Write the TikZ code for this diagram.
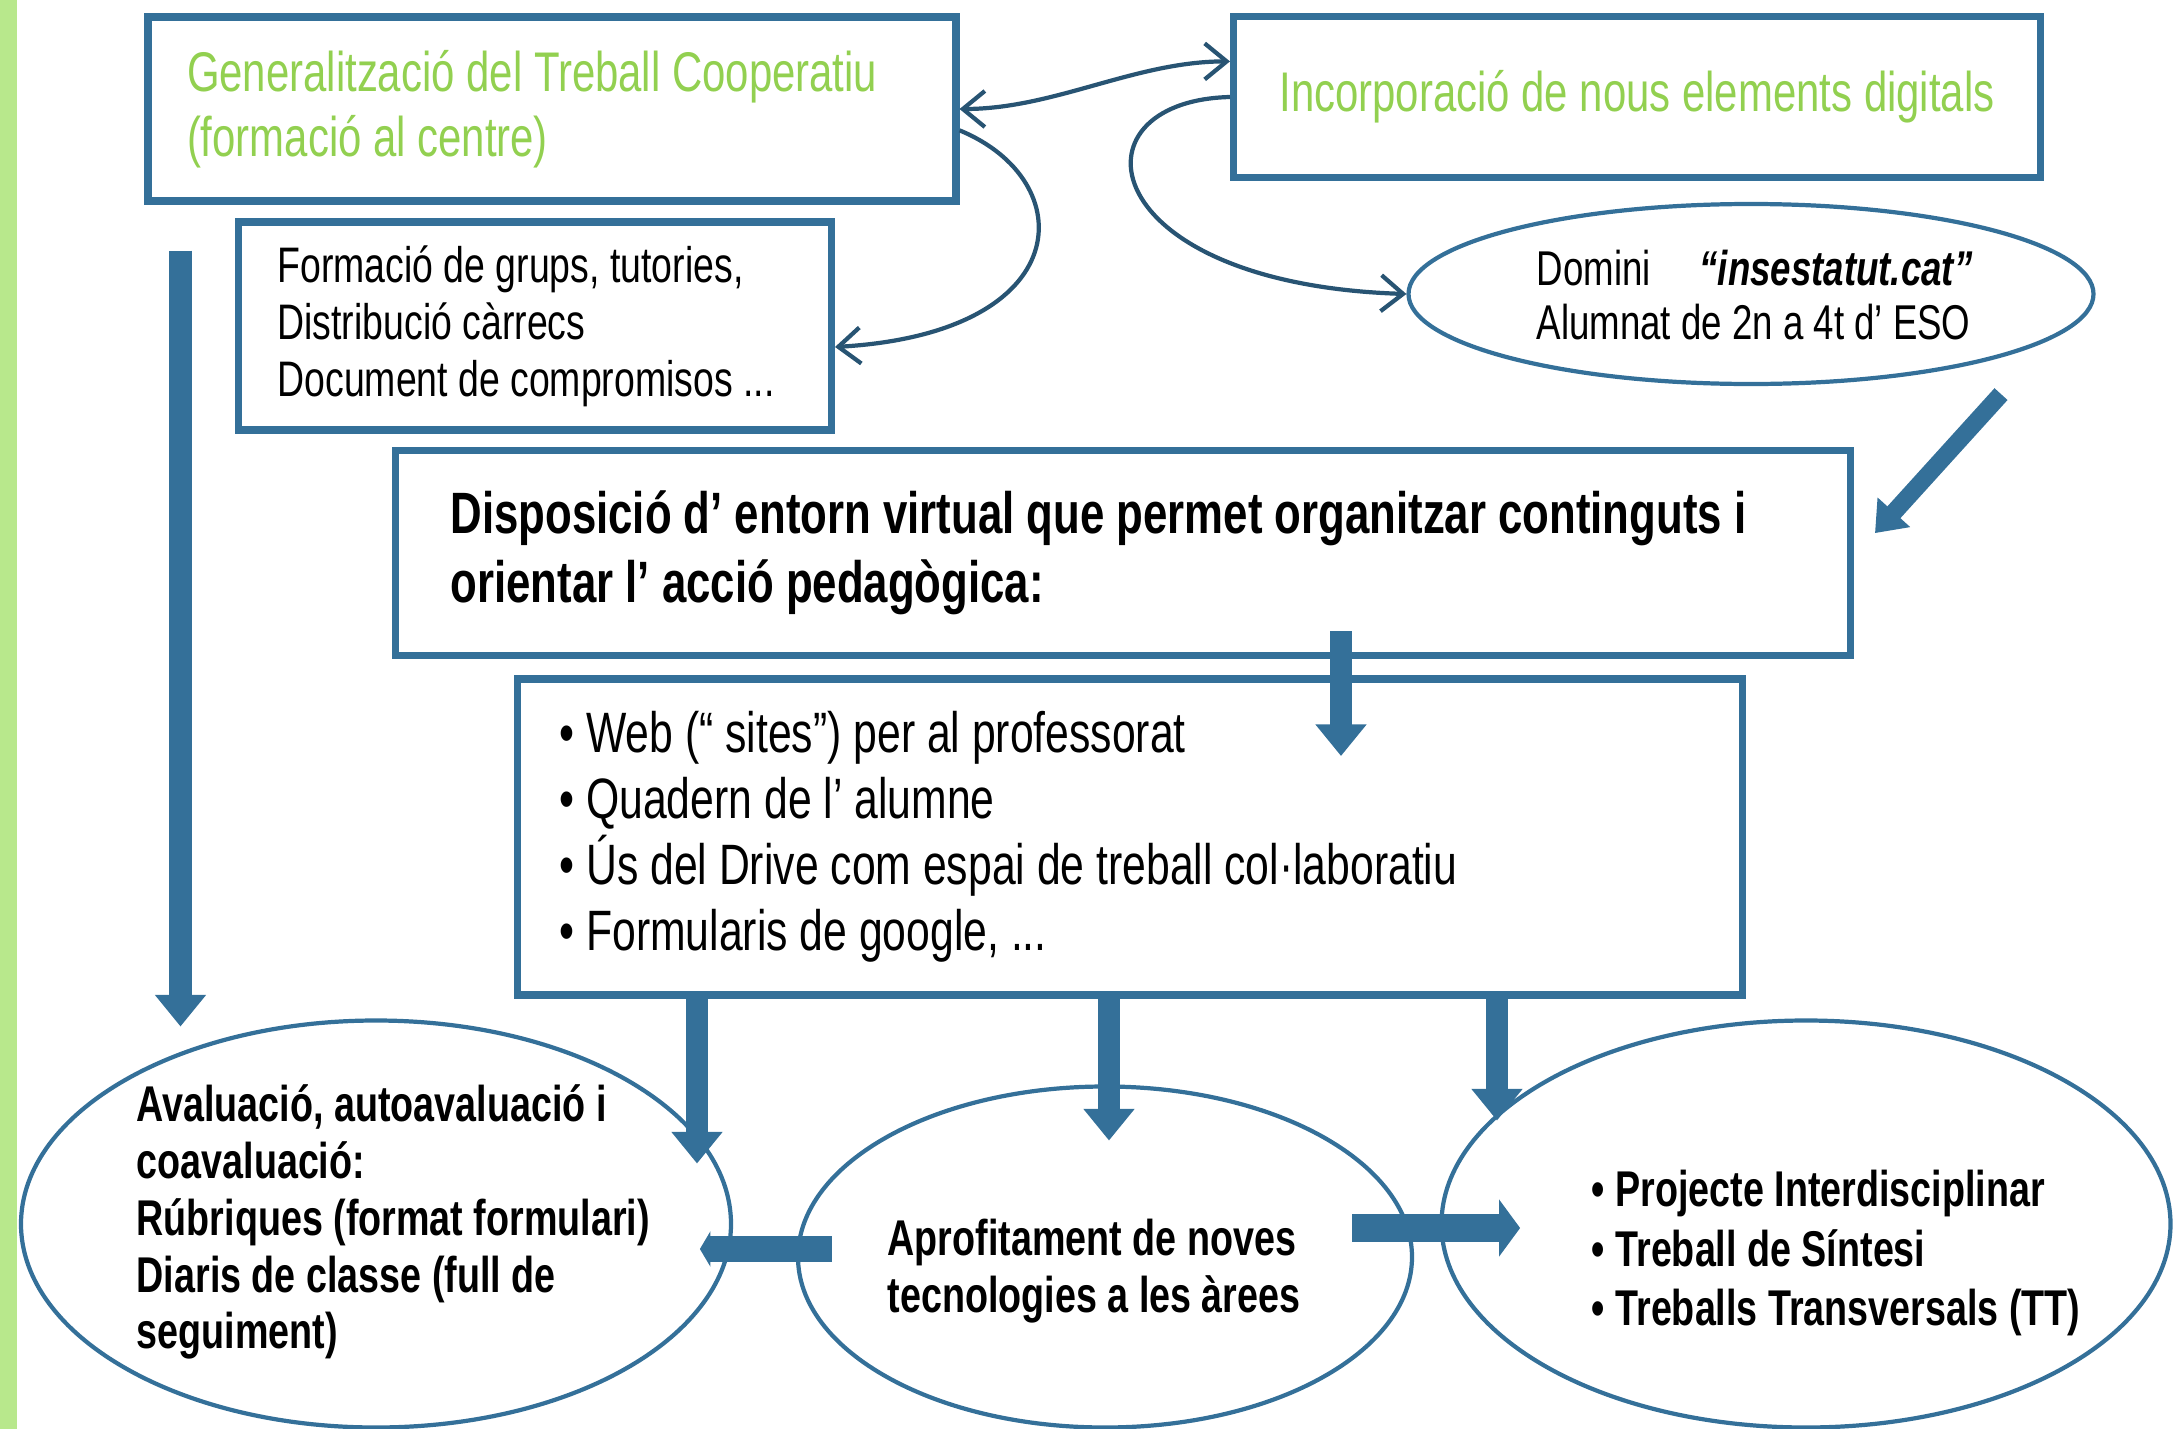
\documentclass[tikz,border=0pt]{standalone}
\usepackage{fontspec}
\setmainfont{Liberation Sans}[FakeStretch=0.75]
\usepackage{tikz}
\usetikzlibrary{shapes.geometric,arrows.meta,calc}

\definecolor{boxblue}{RGB}{52,112,153}
\definecolor{curveblue}{RGB}{40,84,115}
\definecolor{titlegreen}{RGB}{146,208,80}
\definecolor{stripgreen}{RGB}{184,232,140}

\begin{document}
\begin{tikzpicture}[y=-1cm,>={Straight Barb[length=2.2mm,width=3.6mm]},
    mybox/.style={draw=boxblue,line width=2pt,rectangle,align=flush left},
    myell/.style={draw=boxblue,line width=1.2pt,ellipse,inner sep=0pt},
    mytext/.style={inner sep=0pt,align=flush left,anchor=west},
    myarrow/.style={boxblue,line width=6.5pt,-{Triangle[width=14pt,length=9pt]}},
    mycurve/.style={curveblue,line width=1.2pt}]

    \useasboundingbox (0,0) rectangle (21.73,14.29);

    %green strip
    \fill[stripgreen] (0,0) rectangle (0.17,14.29);

    %top boxes
    \node[mybox,minimum width=8.08cm,minimum height=1.84cm,inner xsep=0.39cm,text width=7.30cm,
          text=titlegreen,font=\fontsize{15.9}{18.5}\selectfont] (gen) at (5.52,1.09)
          {Generalització del Treball Cooperatiu\\(formació al centre)};
    \node[mybox,minimum width=8.07cm,minimum height=1.61cm,inner xsep=0.2cm,text width=7.67cm,align=flush center,
          text=titlegreen,font=\fontsize{15.9}{18.5}\selectfont] (inc) at (16.37,0.97)
          {Incorporació de nous elements digitals};
    \node[mybox,minimum width=5.93cm,minimum height=2.08cm,inner xsep=0.39cm,text width=5.15cm,
          font=\fontsize{14.2}{16.2}\selectfont] (grp) at (5.35,3.26)
          {Formació de grups, tutories,\\Distribució càrrecs\\Document de compromisos ...};

    %domain ellipse
    \node[myell,minimum width=6.85cm,minimum height=1.80cm] (dom) at (17.51,2.94) {};
    \node[mytext,font=\fontsize{13.9}{15.6}\selectfont] (domtxt) at (15.36,2.95)
          {Domini\quad\textbf{\textit{“insestatut.cat”}}\\Alumnat de 2n a 4t d’ ESO};

    %middle boxes
    \node[mybox,minimum width=14.55cm,minimum height=2.05cm,inner xsep=0.55cm,text width=13.45cm,
          font=\bfseries\fontsize{16.6}{19.6}\selectfont] (dis) at (11.23,5.53)
          {Disposició d’ entorn virtual que permet organitzar continguts i\\orientar l’ acció pedagògica:};
    \node[mybox,minimum width=12.25cm,minimum height=3.16cm,inner xsep=0.42cm,text width=11.41cm,
          font=\fontsize{16.2}{18.8}\selectfont] (web) at (11.30,8.37)
          {• Web (“ sites”) per al professorat\\• Quadern de l’ alumne\\• Ús del Drive com espai de treball col·laboratiu\\• Formularis de google, ...};

    %bottom ellipses
    \node[myell,minimum width=7.10cm,minimum height=4.07cm] (eva) at (3.76,12.24) {};
    \node[myell,minimum width=6.14cm,minimum height=3.41cm] (apr) at (11.05,12.57) {};
    \node[myell,minimum width=7.29cm,minimum height=4.07cm] (proj) at (18.06,12.24) {};

    \node[mytext,font=\bfseries\fontsize{14.3}{16.2}\selectfont] (evatxt) at (1.36,12.22)
          {Avaluació, autoavaluació i\\coavaluació:\\Rúbriques (format formulari)\\Diaris de classe (full de\\seguiment)};
    \node[mytext,font=\bfseries\fontsize{14.3}{16.2}\selectfont] (aprtxt) at (8.87,12.71)
          {Aprofitament de noves\\tecnologies a les àrees};
    \node[mytext,font=\bfseries\fontsize{14.3}{16.9}\selectfont] (projtxt) at (15.91,12.53)
          {• Projecte Interdisciplinar\\• Treball de Síntesi\\• Treballs Transversals (TT)};

    %thin curved arrows
    \draw[mycurve,<->] (gen.east) .. controls +(0.95,0) and +(-0.95,0) .. (inc.175);
    \draw[mycurve,->] (gen.-3) .. controls +(1.22,0.50) and +(2.43,-0.14) .. (grp.-4);
    \draw[mycurve,->] (inc.west) .. controls +(-1.64,0.04) and +(-3.13,-0.10) .. (dom.west);

    %thick arrows
    \draw[myarrow] ($(gen.south west)+(0.36,0.46)$) -- ++(0,7.76);
    \draw[myarrow,line width=5pt,-{Triangle[width=12pt,length=8pt]}] ($(dom.south)+(2.50,0.08)$) -- ++(-1.26,1.39);
    \draw[myarrow] ($(dis.south)+(2.18,-0.28)$) -- ++(0,1.25);
    \draw[myarrow] ($(web.south)+(-4.33,0)$) -- ++(0,1.65);
    \draw[myarrow] ($(web.south)+(-0.21,0)$) -- ++(0,1.42);
    \draw[myarrow] ($(web.south)+(3.67,0)$) -- ++(0,1.22);

    %horizontal arrows
    \draw[myarrow,line width=7.5pt,-{Triangle[width=10pt,length=3pt]}] ($(apr.west)+(0.36,-0.08)$) -- ++(-1.32,0);
    \draw[myarrow,line width=7.8pt,-{Triangle[width=16pt,length=6pt]}] ($(apr.east)+(-0.62,-0.29)$) -- ++(1.68,0);
\end{tikzpicture}
\end{document}
